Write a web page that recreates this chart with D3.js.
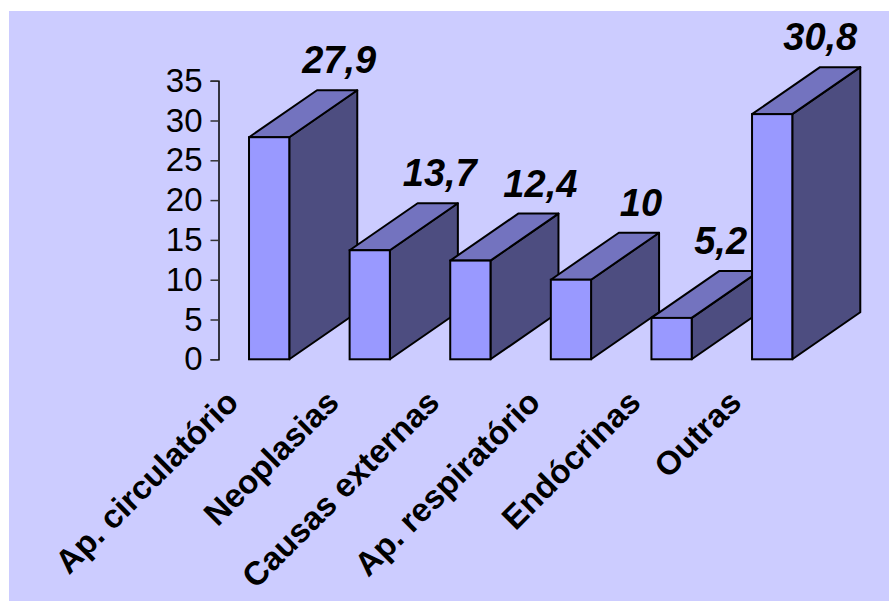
<!DOCTYPE html>
<html>
<head>
<meta charset="utf-8">
<script src="https://cdn.jsdelivr.net/npm/d3@7"></script>
<style>
  body { margin: 0; background: #ffffff; }
  svg { display: block; font-family: "Liberation Sans", Arial, sans-serif; }
</style>
</head>
<body>
<svg class="grafico" width="889" height="601"></svg>
<script>
// dados do grafico
const categorias = ["Ap. circulatório", "Neoplasias", "Causas externas", "Ap. respiratório", "Endócrinas", "Outras"];
const valores = [27.9, 13.7, 12.4, 10, 5.2, 30.8];
const rotulos = ["27,9", "13,7", "12,4", "10", "5,2", "30,8"];
const ticksY = [0, 5, 10, 15, 20, 25, 30, 35];

const svg = d3.select(".grafico");
const width = 889;
const height = 601;

// profundidade 3D
const dx = 68;
const dy = -47;

// fundo
svg.append("rect")
  .attr("x", 9)
  .attr("y", 11)
  .attr("width", width - 9)
  .attr("height", height - 11)
  .attr("fill", "#ccccff");

// escalas
const x = d3.scaleBand()
  .domain(categorias)
  .range([228.9, 812.4])
  .paddingInner(0.6)
  .paddingOuter(0.2);

const y = d3.scaleLinear()
  .domain([0, 35])
  .range([359.3, 80.7]);

// eixo y
const eixoY = svg.append("g")
  .attr("transform", "translate(218.5, 0)")
  .call(d3.axisLeft(y).tickValues(ticksY).tickSize(8).tickPadding(8));

eixoY.select(".domain").attr("stroke", "#000").attr("stroke-width", 1.5);
eixoY.selectAll(".tick line").attr("stroke", "#333").attr("stroke-width", 1.5);
eixoY.selectAll(".tick text")
  .attr("fill", "#000")
  .attr("font-size", 33)
  .attr("font-family", "Liberation Sans, Arial, sans-serif");

// barras 3D
const barras = svg.append("g")
  .selectAll("g")
  .data(categorias)
  .join("g");

barras.each(function(c, i) {
  const g = d3.select(this);
  const x0 = x(c);
  const x1 = x0 + x.bandwidth();
  const yt = y(valores[i]);
  const yb = y(0);

  // lado
  g.append("polygon")
    .attr("points", [[x1, yt], [x1 + dx, yt + dy], [x1 + dx, yb + dy], [x1, yb]].join(" "))
    .attr("fill", "#4d4d80")
    .attr("stroke", "#000")
    .attr("stroke-width", 2)
    .attr("stroke-linejoin", "round");

  // topo
  g.append("polygon")
    .attr("points", [[x0, yt], [x0 + dx, yt + dy], [x1 + dx, yt + dy], [x1, yt]].join(" "))
    .attr("fill", "#7373bf")
    .attr("stroke", "#000")
    .attr("stroke-width", 2)
    .attr("stroke-linejoin", "round");

  // frente
  g.append("rect")
    .attr("x", x0)
    .attr("y", yt)
    .attr("width", x1 - x0)
    .attr("height", yb - yt)
    .attr("fill", "#9999ff")
    .attr("stroke", "#000")
    .attr("stroke-width", 2);
});

// rotulos de valor
const rotulosG = svg.append("g");
categorias.forEach((c, i) => {
  const base = y(valores[i]) + dy - 17;
  const t = rotulosG.append("text")
    .attr("font-size", 38)
    .attr("font-weight", "bold")
    .attr("font-style", "italic")
    .attr("fill", "#000")
    .attr("text-anchor", "middle")
    .attr("y", base)
    .text(rotulos[i]);
  const w = t.node().getComputedTextLength();
  let cx = x(c) + x.bandwidth() / 2 + dx + 2;
  // evita sobrepor a barra seguinte (se for mais alta) ou sair da area
  let limite = Infinity;
  if (i < categorias.length - 1) {
    const prox = categorias[i + 1];
    if (y(valores[i + 1]) < base) limite = x(prox) - 5;
  } else {
    limite = x(c) + x.bandwidth() + dx - 3;
  }
  if (cx + w / 2 > limite) cx = limite - w / 2;
  t.attr("x", cx);
});

// rotulos das categorias
svg.append("g")
  .selectAll("text")
  .data(categorias)
  .join("text")
  .attr("transform", d => `translate(${x(d) + x.bandwidth() / 2 - 29}, ${y(0) + 45}) rotate(-45)`)
  .attr("text-anchor", "end")
  .attr("font-size", 33)
  .attr("font-weight", "bold")
  .attr("fill", "#000")
  .text(d => d);
</script>
</body>
</html>
